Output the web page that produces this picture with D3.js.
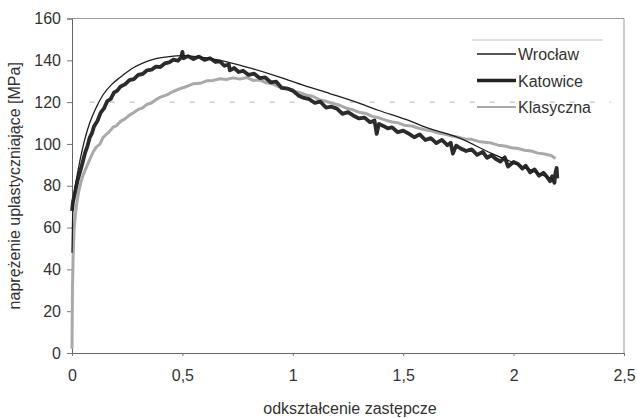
<!DOCTYPE html>
<html>
<head>
<meta charset="utf-8">
<script src="https://cdn.jsdelivr.net/npm/d3@7"></script>
<style>
  body { margin: 0; background: #fff; }
  svg text { font-family: "Liberation Sans", Arial, sans-serif; fill: #333; }
</style>
</head>
<body>
<div id="vis"></div>
<script>
const w = 637;
const h = 418;
const margin = ({top: 18.5, right: 13, bottom: 65, left: 72});

const xTicks = [0, 0.5, 1, 1.5, 2, 2.5];
const xTickLabels = ["0", "0,5", "1", "1,5", "2", "2,5"];
const yTicks = [0, 20, 40, 60, 80, 100, 120, 140, 160];
const seriesNames = ["Wrocław", "Katowice", "Klasyczna"];

// Wrocław - smooth model curve
const wroStrain = [0, 0.003, 0.01, 0.02, 0.036, 0.055, 0.08, 0.11, 0.14, 0.18, 0.22, 0.27, 0.32, 0.38, 0.44, 0.5, 0.58, 0.67, 0.8, 0.94, 1.05, 1.17, 1.3, 1.39, 1.53, 1.6, 1.75, 1.9, 2.05, 2.18];
const wroStress = [48, 66, 76, 83, 92, 101, 110, 117.5, 123.4, 128.5, 132, 136, 138.7, 140.8, 141.8, 142.2, 141.5, 140, 136.5, 132, 128, 124, 119.5, 116, 111, 108, 103, 95.5, 88.8, 83];

// Katowice - measured, noisy
const katStrain = [0, 0.004, 0.01, 0.016, 0.024, 0.032, 0.04, 0.05, 0.06, 0.07, 0.08, 0.09, 0.1, 0.115, 0.13, 0.145, 0.16, 0.175, 0.19, 0.205, 0.22, 0.24, 0.26, 0.28, 0.3, 0.32, 0.34, 0.36, 0.38, 0.4, 0.42, 0.44, 0.46, 0.48, 0.495, 0.5, 0.505, 0.525, 0.55, 0.575, 0.6, 0.625, 0.65, 0.67, 0.69, 0.71, 0.715, 0.735, 0.755, 0.775, 0.8, 0.825, 0.85, 0.875, 0.9, 0.925, 0.95, 0.975, 1.0, 1.025, 1.05, 1.075, 1.1, 1.125, 1.15, 1.175, 1.2, 1.225, 1.25, 1.275, 1.3, 1.325, 1.35, 1.37, 1.38, 1.39, 1.41, 1.43, 1.45, 1.475, 1.5, 1.525, 1.55, 1.575, 1.6, 1.625, 1.65, 1.675, 1.7, 1.715, 1.725, 1.74, 1.76, 1.785, 1.81, 1.835, 1.86, 1.88, 1.9, 1.92, 1.94, 1.96, 1.975, 2.0, 2.02, 2.04, 2.055, 2.075, 2.095, 2.115, 2.135, 2.15, 2.165, 2.175, 2.185, 2.19, 2.195, 2.198];
const katStress = [68, 72, 75, 78, 82, 85, 88, 92, 96, 99, 103, 105, 108.5, 111, 115, 117, 120.5, 121.5, 124.5, 125.5, 127.5, 128.5, 130.5, 131, 133, 133.5, 135.2, 135.5, 137, 136.8, 138.5, 139, 140.3, 139.8, 141.5, 144, 141, 142, 140.6, 141.8, 140.2, 141, 139.2, 139.5, 137.4, 138, 135.2, 136.3, 134.4, 135, 133, 133.6, 131.5, 131.8, 129.5, 129.8, 126.8, 126.5, 125.5, 123.2, 122, 121.4, 119.6, 120.2, 117.4, 117.8, 116.9, 114.4, 115.2, 113.5, 112.2, 112.6, 110.4, 111.2, 104.8, 109.6, 108.6, 107.4, 107.9, 105.6, 106.4, 104.9, 103.2, 104.6, 101.9, 102.8, 100.4, 101.9, 99.4, 100.6, 95.4, 99.2, 97.8, 96.6, 97.4, 94.8, 96.2, 93.4, 94.6, 92.8, 91.6, 93.6, 89.2, 91.4, 90.4, 88.2, 89.6, 86.4, 87.8, 84.8, 86.2, 84.4, 82.2, 84.6, 81.4, 86.5, 88.5, 83.5];

// Klasyczna - measured, grey
const klaStrain = [0, 0.002, 0.005, 0.01, 0.015, 0.022, 0.03, 0.04, 0.05, 0.066, 0.08, 0.095, 0.11, 0.127, 0.14, 0.155, 0.17, 0.186, 0.2, 0.22, 0.24, 0.26, 0.28, 0.3, 0.32, 0.34, 0.36, 0.38, 0.4, 0.43, 0.46, 0.49, 0.52, 0.55, 0.58, 0.61, 0.64, 0.67, 0.7, 0.73, 0.76, 0.79, 0.82, 0.85, 0.88, 0.91, 0.94, 0.97, 1.0, 1.03, 1.06, 1.09, 1.12, 1.15, 1.18, 1.21, 1.24, 1.27, 1.3, 1.33, 1.36, 1.39, 1.42, 1.45, 1.48, 1.51, 1.54, 1.57, 1.6, 1.63, 1.66, 1.69, 1.72, 1.75, 1.78, 1.81, 1.84, 1.87, 1.9, 1.93, 1.96, 1.99, 2.02, 2.05, 2.08, 2.11, 2.14, 2.17, 2.19];
const klaStress = [2, 30, 46, 60, 66, 72, 77, 81.5, 85, 89, 92.5, 96, 98.5, 100, 103, 104.5, 106, 108, 108.6, 110.8, 112, 113.8, 115, 116.5, 117.2, 119, 119.6, 121.2, 122.4, 123.5, 125.2, 126.5, 127.5, 128.8, 129, 130.2, 130.4, 131.2, 130.8, 131.6, 131, 131.8, 130.4, 130.6, 129.2, 128.6, 127.2, 126.8, 125.4, 124.6, 123.4, 122.8, 121.2, 120.4, 119.4, 118.6, 117.2, 116.4, 115.2, 114.6, 113.2, 112.5, 111.4, 110.5, 110, 108.8, 108.6, 107.5, 106.8, 106.2, 105.2, 104.6, 103.8, 103.2, 102.4, 102.2, 101.2, 100.8, 100.4, 99.4, 99, 98.2, 97.8, 97, 96.6, 95.6, 95.2, 94.5, 93];

const svg = d3.select('#vis')
    .append('svg')
    .attr('width', w)
    .attr('height', h)

let xScale = d3.scaleLinear()
    .domain([0, 2.5])
    .range([margin.left, w - margin.right]);

let yScale = d3.scaleLinear()
    .domain([0, 160])
    .range([h - margin.bottom, margin.top]);

// frame (top and right)
svg.append('path')
    .attr('d', `M${xScale(0)},${yScale(160)}H${xScale(2.5)}V${yScale(0)}`)
    .attr('fill', 'none')
    .attr('stroke', '#999')
    .attr('stroke-width', 1)

// faint dashed line at 120
svg.append('line')
    .attr('x1', xScale(0.08))
    .attr('x2', 611)
    .attr('y1', yScale(120))
    .attr('y2', yScale(120))
    .attr('stroke', '#b5b5b5')
    .attr('stroke-width', 1)
    .attr('stroke-dasharray', '5,15')

let yAxis = d3.axisLeft(yScale)
    .tickValues(yTicks)
    .tickSize(5)
    .tickPadding(6);

let xAxis = d3.axisBottom(xScale)
    .tickValues(xTicks)
    .tickFormat((d, i) => xTickLabels[i])
    .tickSize(3)
    .tickPadding(14);

let gx = svg.append('g')
    .attr('transform', 'translate(0,' + yScale(0) + ')')
    .call(xAxis)
let gy = svg.append('g')
    .attr('transform', 'translate(' + margin.left + ',0)')
    .call(yAxis)

;[gx, gy].forEach(g => {
    g.select('.domain').attr('stroke', '#666')
    g.selectAll('.tick line').attr('stroke', '#777')
    g.selectAll('.tick text')
        .attr('font-size', '16px')
        .attr('font-family', '"Liberation Sans", Arial, sans-serif')
        .attr('fill', '#333')
})

// lines
const toPts = (xs, ys) => xs.map((x, i) => [x, ys[i]]);

let lineLin = d3.line()
    .x(d => xScale(d[0]))
    .y(d => yScale(d[1]));

let lineSmooth = d3.line()
    .x(d => xScale(d[0]))
    .y(d => yScale(d[1]))
    .curve(d3.curveMonotoneX);

svg.append('path')
    .datum(toPts(klaStrain, klaStress))
    .attr('d', lineLin)
    .attr('fill', 'none')
    .attr('stroke', '#a9a9a9')
    .attr('stroke-width', 3)
    .attr('stroke-linejoin', 'round')

svg.append('path')
    .datum(toPts(katStrain, katStress))
    .attr('d', lineLin)
    .attr('fill', 'none')
    .attr('stroke', '#2b2b2b')
    .attr('stroke-width', 3.8)
    .attr('stroke-linejoin', 'round')

svg.append('path')
    .datum(toPts(wroStrain, wroStress))
    .attr('d', lineSmooth)
    .attr('fill', 'none')
    .attr('stroke', '#1e1e1e')
    .attr('stroke-width', 1.3)

// legend
const legStyles = [
    {stroke: '#1e1e1e', width: 1.3},
    {stroke: '#222', width: 3.5},
    {stroke: '#a9a9a9', width: 2}
];

svg.append('line')
    .attr('x1', 472).attr('x2', 603)
    .attr('y1', 40).attr('y2', 40)
    .attr('stroke', '#c4c4c4')

let leg = svg.selectAll('.leg')
    .data(seriesNames)
    .join('g')
    .attr('class', 'leg')
    .attr('transform', (d, i) => `translate(477, ${54 + i * 26.5})`)

leg.append('line')
    .attr('x1', 0).attr('x2', 39)
    .attr('stroke', (d, i) => legStyles[i].stroke)
    .attr('stroke-width', (d, i) => legStyles[i].width)

leg.append('text')
    .attr('x', 41)
    .attr('y', 6)
    .attr('font-size', '16px')
    .text(d => d)

// axis titles
svg.append('text')
    .attr('transform', `translate(20, ${(yScale(0) + yScale(160)) / 2}) rotate(-90)`)
    .attr('text-anchor', 'middle')
    .attr('font-size', '16px')
    .text('naprężenie uplastyczniające [MPa]')

svg.append('text')
    .attr('x', 350)
    .attr('y', 414)
    .attr('text-anchor', 'middle')
    .attr('font-size', '16px')
    .text('odkształcenie zastępcze')
</script>
</body>
</html>
